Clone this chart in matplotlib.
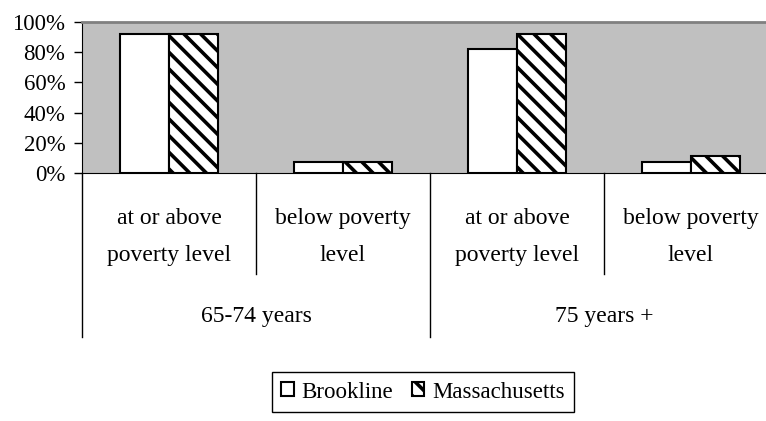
import matplotlib
matplotlib.use("Agg")
import matplotlib.pyplot as plt
from matplotlib.patches import Patch
import numpy as np

categories = ["at or above\npoverty level", "below poverty\nlevel",
              "at or above\npoverty level", "below poverty\nlevel"]
groups = ["65-74 years", "75 years +"]
brookline = [0.92, 0.07, 0.82, 0.07]
massachusetts = [0.92, 0.07, 0.92, 0.11]
yticks = [0, 0.2, 0.4, 0.6, 0.8, 1.0]
ytick_labels = ["0%", "20%", "40%", "60%", "80%", "100%"]

plt.rcParams['font.family'] = ['Liberation Serif', 'DejaVu Serif']
plt.rcParams['hatch.linewidth'] = 2.6
HATCH = '\\' * 2

W, H = 766, 421
fig = plt.figure(figsize=(W / 100, H / 100), dpi=100)
left, right, top, bottom = 82, 778, 22, 173
ax = fig.add_axes([left / W, 1 - bottom / H, (right - left) / W, (bottom - top) / H])
ax.set_facecolor('#C0C0C0')

x = np.arange(len(categories))
bw = 0.28
ax.bar(x - bw / 2, brookline, bw, color='white', edgecolor='black', linewidth=1.5, label='Brookline')
ax.bar(x + bw / 2, massachusetts, bw, color='white', edgecolor='black', linewidth=1.5,
       hatch=HATCH, label='Massachusetts')

ax.set_xlim(-0.5, len(categories) - 0.5)
ax.set_ylim(0, 1)
ax.set_yticks(yticks)
ax.set_yticklabels(ytick_labels, fontsize=16.5)
ax.tick_params(axis='y', direction='out', length=6, width=1, pad=6)
ax.set_xticks([])
ax.spines['right'].set_visible(False)
ax.spines['top'].set_color('#808080')
ax.spines['top'].set_linewidth(2)
ax.spines['left'].set_color('black')
ax.spines['bottom'].set_color('black')

axh = bottom - top
def fy(py):
    return (bottom - py) / axh

tr = ax.get_xaxis_transform()
for i in range(len(categories) + 1):
    xb = i - 0.5
    yend = 337 if i % 2 == 0 else 274
    ax.plot([xb, xb], [0, fy(yend)], color='black', lw=1, transform=tr, clip_on=False)

FS = 17
for i, c in enumerate(categories):
    ax.text(i, fy(237), c, transform=tr, ha='center', va='center', fontsize=FS,
            linespacing=1.95)

for g, name in enumerate(groups):
    ax.text(2 * g + 0.5, fy(316), name, transform=tr, ha='center', va='center', fontsize=FS)

handles = [Patch(facecolor='white', edgecolor='black', linewidth=1.5, label='Brookline'),
           Patch(facecolor='white', edgecolor='black', linewidth=1.5, hatch=HATCH,
                 label='Massachusetts')]
leg = fig.legend(handles=handles, loc='center', bbox_to_anchor=(423 / W, 1 - 392 / H),
                 ncol=2, fontsize=16.5, frameon=True, fancybox=False, edgecolor='black',
                 framealpha=1, handlelength=0.55, handleheight=0.55, handletextpad=0.35,
                 columnspacing=0.8, borderpad=0.4, borderaxespad=0)
leg.get_frame().set_linewidth(1)

fig.savefig("out.png", dpi=100)
